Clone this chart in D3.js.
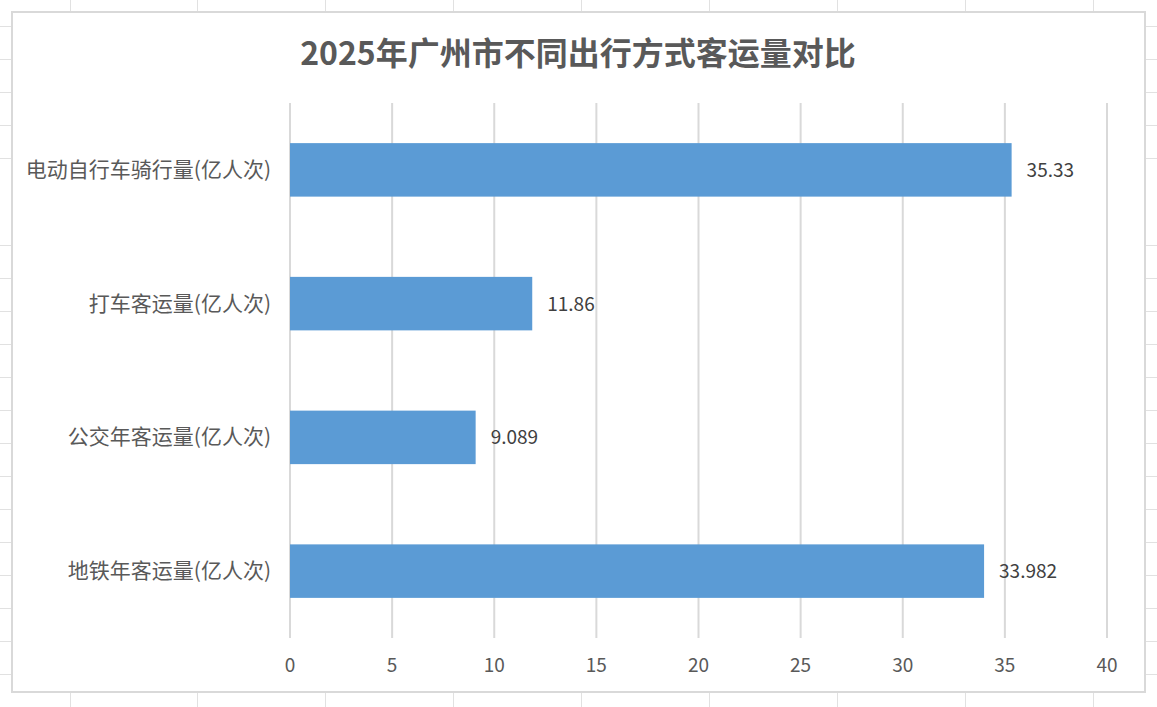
<!DOCTYPE html>
<html>
<head>
<meta charset="utf-8">
<script src="https://cdn.jsdelivr.net/npm/d3@7"></script>
<style>
  html, body { margin: 0; padding: 0; background: #fff; }
  svg { display: block; font-family: "Noto Sans CJK SC", "Noto Sans", sans-serif; }
</style>
</head>
<body>
<div id="chart"></div>
<script>
// chart data
var categories = ["电动自行车骑行量(亿人次)", "打车客运量(亿人次)", "公交年客运量(亿人次)", "地铁年客运量(亿人次)"];
var values = [35.33, 11.86, 9.089, 33.982];
var valueLabels = ["35.33", "11.86", "9.089", "33.982"];
var xTicks = [0, 5, 10, 15, 20, 25, 30, 35, 40];
var titleText = "2025年广州市不同出行方式客运量对比";

// spreadsheet behind the chart
var rowHeights = [25.5, 33, 33, 33, 33, 87, 33, 33, 33, 33, 33, 33, 33, 33, 33, 33, 33, 33, 33, 33];
var colWidth = 127.9;

var W = 1157, H = 707;
var svg = d3.select("#chart").append("svg")
    .attr("width", W)
    .attr("height", H);

// sheet grid
var sheet = svg.append("g").attr("class", "sheet");
var yy = 0;
rowHeights.forEach(function (h) {
    yy += h;
    sheet.append("line")
        .attr("x1", 0).attr("x2", W)
        .attr("y1", Math.round(yy) + 0.5).attr("y2", Math.round(yy) + 0.5)
        .attr("stroke", "#e1e1e1").attr("stroke-width", 1);
});
for (var cx = 69.5; cx < W; cx += colWidth) {
    sheet.append("line")
        .attr("x1", Math.round(cx) + 0.5).attr("x2", Math.round(cx) + 0.5)
        .attr("y1", 0).attr("y2", H)
        .attr("stroke", "#e1e1e1").attr("stroke-width", 1);
}

// chart area
svg.append("rect")
    .attr("x", 12).attr("y", 12)
    .attr("width", 1133).attr("height", 680)
    .attr("fill", "#fff")
    .attr("stroke", "#d9d9d9")
    .attr("stroke-width", 2);

var x = d3.scaleLinear().domain([0, 40]).range([290, 1107]);
var y = d3.scaleBand().domain(categories).range([103, 638])
    .paddingInner(0.6).paddingOuter(0.3);

// vertical gridlines
svg.append("g").selectAll("line")
    .data(xTicks)
    .enter().append("line")
    .attr("x1", function (d) { return x(d); })
    .attr("x2", function (d) { return x(d); })
    .attr("y1", 103).attr("y2", 638)
    .attr("stroke", "#d9d9d9")
    .attr("stroke-width", 2);

// bars
svg.append("g").selectAll("rect")
    .data(values)
    .enter().append("rect")
    .attr("x", x(0))
    .attr("y", function (d, i) { return y(categories[i]); })
    .attr("width", function (d) { return x(d) - x(0); })
    .attr("height", y.bandwidth())
    .attr("fill", "#5b9bd5");

// value labels
svg.append("g").selectAll("text")
    .data(values)
    .enter().append("text")
    .attr("x", function (d) { return x(d) + 15; })
    .attr("y", function (d, i) { return y(categories[i]) + y.bandwidth() / 2 + 7; })
    .attr("fill", "#404040")
    .style("font-size", "19px")
    .text(function (d, i) { return valueLabels[i]; });

// category labels
svg.append("g").selectAll("text")
    .data(categories)
    .enter().append("text")
    .attr("x", 271)
    .attr("y", function (d) { return y(d) + y.bandwidth() / 2 + 7; })
    .attr("text-anchor", "end")
    .attr("fill", "#595959")
    .style("font-size", "21px")
    .text(function (d) { return d; });

// x tick labels
svg.append("g").selectAll("text")
    .data(xTicks)
    .enter().append("text")
    .attr("x", function (d) { return x(d); })
    .attr("y", 672)
    .attr("text-anchor", "middle")
    .attr("fill", "#595959")
    .style("font-size", "19px")
    .text(function (d) { return d; });

// title
svg.append("text")
    .attr("x", 578)
    .attr("y", 65)
    .attr("text-anchor", "middle")
    .attr("fill", "#595959")
    .style("font-size", "32px")
    .style("font-weight", "bold")
    .text(titleText);
</script>
</body>
</html>
